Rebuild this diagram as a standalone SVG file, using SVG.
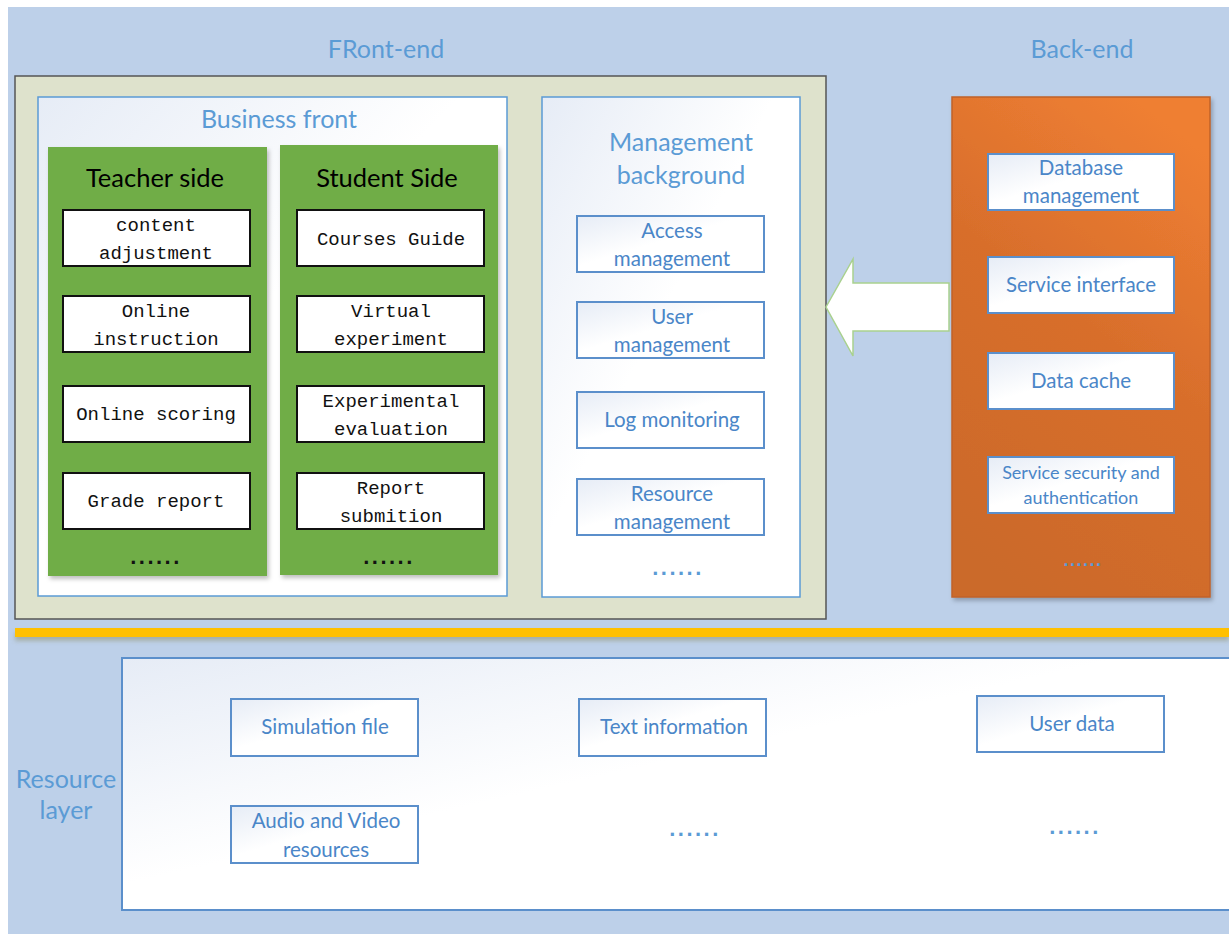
<svg xmlns="http://www.w3.org/2000/svg" width="1229" height="934" viewBox="0 0 1229 934">
<defs>
<linearGradient id="paleFill" x1="0" y1="0" x2="1" y2="1">
<stop offset="0" stop-color="#E6ECF6"/>
<stop offset="0.45" stop-color="#FFFFFF"/>
<stop offset="1" stop-color="#FFFFFF"/>
</linearGradient>
<linearGradient id="orangeFill" x1="0.7" y1="0" x2="0.3" y2="1">
<stop offset="0" stop-color="#EF7F32"/>
<stop offset="0.45" stop-color="#D86E2C"/>
<stop offset="1" stop-color="#CB6A2C"/>
</linearGradient>
<filter id="shadow" x="-10%" y="-10%" width="130%" height="130%">
<feDropShadow dx="2" dy="3" stdDeviation="2" flood-color="#000" flood-opacity="0.25"/>
</filter>
<filter id="lineShadow" x="-5%" y="-100%" width="110%" height="400%">
<feDropShadow dx="0" dy="4" stdDeviation="2" flood-color="#8a8a5a" flood-opacity="0.45"/>
</filter>
</defs>
<style>
.title{font-family:Lato,"Liberation Sans",sans-serif;font-size:25px;fill:#5B9BD5;text-anchor:middle}
.head{font-family:Lato,"Liberation Sans",sans-serif;font-size:25.5px;fill:#000;text-anchor:middle}
.mono{font-family:"Liberation Mono",monospace;font-size:19px;fill:#111;text-anchor:middle}
.btxt{font-family:Lato,"Liberation Sans",sans-serif;font-size:20.5px;fill:#4A86C8;text-anchor:middle}
.wbox{fill:#FFFFFF;stroke:#111;stroke-width:2}
.bbox{fill:url(#paleFill);stroke:#5B8FCB;stroke-width:2}
.obox{fill:url(#paleFill);stroke:#5B8FCB;stroke-width:2}
.green{fill:#70AD47;filter:url(#shadow)}
.kdots{font-family:"Liberation Sans",sans-serif;font-size:22px;font-weight:bold;fill:#111;text-anchor:middle;letter-spacing:2.5px}
.bdots{font-family:"Liberation Sans",sans-serif;font-size:22px;font-weight:bold;fill:#5B9BD5;text-anchor:middle;letter-spacing:2.5px}
</style>

<rect x="0" y="0" width="1229" height="934" fill="#FFFFFF"/>
<rect x="8" y="7" width="1221" height="927" fill="#BDD0E9"/>

<text class="title" x="386" y="58">FRont-end</text>
<text class="title" x="1082" y="58">Back-end</text>

<g id="frontend">
<rect x="15" y="76" width="811" height="543" fill="#DEE2CC" stroke="#555" stroke-width="1.5"/>
</g>

<g id="business-front">
<rect x="38" y="97" width="469" height="499" fill="url(#paleFill)" stroke="#5B9BD5" stroke-width="1.5"/>
<text class="title" x="279" y="128">Business front</text>
</g>

<g id="teacher-side">
<rect class="green" x="48" y="147" width="219" height="429"/>
<text class="head" x="155" y="187">Teacher side</text>
<rect class="wbox" x="63" y="210" width="187" height="56"/>
<text class="mono" x="156" y="231">content</text>
<text class="mono" x="156" y="259">adjustment</text>
<rect class="wbox" x="63" y="296" width="187" height="56"/>
<text class="mono" x="156" y="317">Online</text>
<text class="mono" x="156" y="345">instruction</text>
<rect class="wbox" x="63" y="386" width="187" height="56"/>
<text class="mono" x="156" y="420">Online scoring</text>
<rect class="wbox" x="63" y="473" width="187" height="56"/>
<text class="mono" x="156" y="507">Grade report</text>
<text class="kdots" x="156" y="564">......</text>
</g>

<g id="student-side">
<rect class="green" x="280" y="145" width="218" height="430"/>
<text class="head" x="387" y="187">Student Side</text>
<rect class="wbox" x="297" y="210" width="187" height="56"/>
<text class="mono" x="391" y="245">Courses Guide</text>
<rect class="wbox" x="297" y="296" width="187" height="56"/>
<text class="mono" x="391" y="317">Virtual</text>
<text class="mono" x="391" y="345">experiment</text>
<rect class="wbox" x="297" y="386" width="187" height="56"/>
<text class="mono" x="391" y="407">Experimental</text>
<text class="mono" x="391" y="435">evaluation</text>
<rect class="wbox" x="297" y="473" width="187" height="56"/>
<text class="mono" x="391" y="494">Report</text>
<text class="mono" x="391" y="522">submition</text>
<text class="kdots" x="389" y="564">......</text>
</g>

<g id="management-background">
<rect x="542" y="97" width="258" height="500" fill="url(#paleFill)" stroke="#5B9BD5" stroke-width="1.5"/>
<text class="title" x="681" y="151">Management</text>
<text class="title" x="681" y="184">background</text>
<rect class="bbox" x="577" y="216" width="187" height="56"/>
<text class="btxt" x="672" y="238">Access</text>
<text class="btxt" x="672" y="266">management</text>
<rect class="bbox" x="577" y="302" width="187" height="56"/>
<text class="btxt" x="672" y="324">User</text>
<text class="btxt" x="672" y="352">management</text>
<rect class="bbox" x="577" y="392" width="187" height="56"/>
<text class="btxt" x="672" y="427">Log monitoring</text>
<rect class="bbox" x="577" y="479" width="187" height="56"/>
<text class="btxt" x="672" y="501">Resource</text>
<text class="btxt" x="672" y="529">management</text>
<text class="bdots" x="678" y="575">......</text>
</g>

<g id="back-end">
<rect x="952" y="97" width="258" height="500" fill="url(#orangeFill)" stroke="#C0622A" stroke-width="1.5" filter="url(#shadow)"/>
<rect class="obox" x="988" y="154" width="186" height="56"/>
<text class="btxt" x="1081" y="175">Database</text>
<text class="btxt" x="1081" y="203">management</text>
<rect class="obox" x="988" y="257" width="186" height="56"/>
<text class="btxt" x="1081" y="292">Service interface</text>
<rect class="obox" x="988" y="353" width="186" height="56"/>
<text class="btxt" x="1081" y="388">Data cache</text>
<rect class="obox" x="988" y="457" width="186" height="56"/>
<text class="btxt" x="1081" y="479" style="font-size:18px">Service security and</text>
<text class="btxt" x="1081" y="504" style="font-size:18px">authentication</text>
<text class="bdots" x="1083" y="566" style="font-size:18px;letter-spacing:1.5px">......</text>
</g>

<g id="connectors">
<polygon points="826,307 853,259 853,283 949,283 949,331 853,331 853,356" fill="#FFFFFF" stroke="#A9D18E" stroke-width="1.5"/>
</g>

<g id="separator">
<rect x="15" y="628" width="1214" height="9" fill="#FFC000" filter="url(#lineShadow)"/>
</g>

<g id="resource-layer">
<text class="title" x="66" y="788">Resource</text>
<text class="title" x="66" y="819">layer</text>
<rect x="122" y="658" width="1110" height="252" fill="url(#paleFill)" stroke="#5B8FCB" stroke-width="2"/>
<rect class="bbox" x="231" y="699" width="187" height="57"/>
<text class="btxt" x="325" y="734">Simulation file</text>
<rect class="bbox" x="579" y="699" width="187" height="57"/>
<text class="btxt" x="674" y="734">Text information</text>
<rect class="bbox" x="977" y="696" width="187" height="56"/>
<text class="btxt" x="1072" y="731">User data</text>
<rect class="bbox" x="231" y="806" width="187" height="57"/>
<text class="btxt" x="326" y="828">Audio and Video</text>
<text class="btxt" x="326" y="857">resources</text>
<text class="bdots" x="695" y="836">......</text>
<text class="bdots" x="1075" y="834">......</text>
</g>
</svg>
